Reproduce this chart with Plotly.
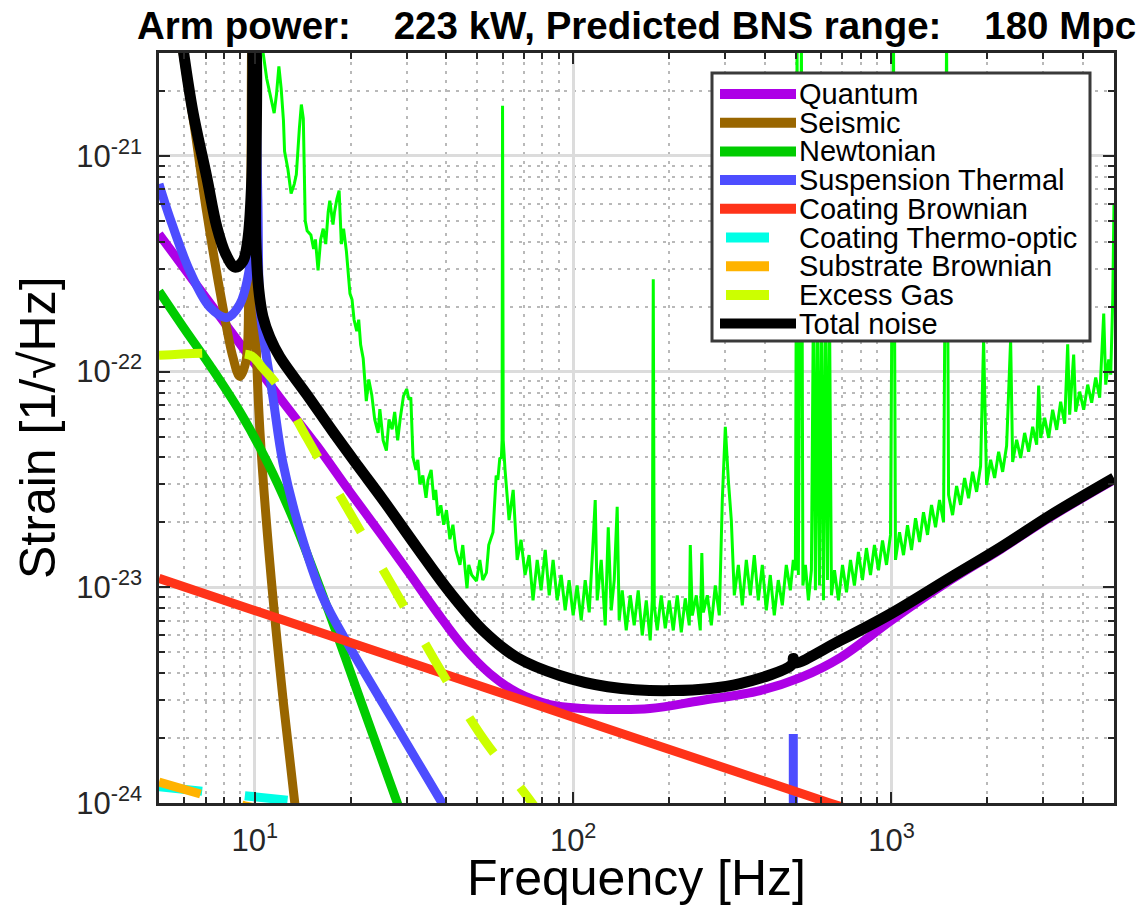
import math
import plotly.graph_objects as go

# ---------------- noise budget curves (frequency in Hz, strain in 1/sqrt(Hz)) ----------------
quantum_f = [5.0, 6.71, 8.97, 11.98, 15.67, 19.88, 25.3, 30.7, 37.35, 45.1, 54.7, 66.7, 84.4,
             107.5, 140.2, 174.3, 250.4, 386.9, 517, 691, 1000, 1534, 2204, 3166, 5000]
quantum_h = [4.34e-22, 2.41e-22, 1.35e-22, 7.57e-23, 4.53e-23, 2.77e-23, 1.71e-23, 1.15e-23,
             7.66e-24, 5.32e-24, 3.98e-24, 3.25e-24, 2.86e-24, 2.74e-24, 2.71e-24, 2.74e-24,
             2.98e-24, 3.32e-24, 3.81e-24, 4.72e-24, 7.03e-24, 1.08e-23, 1.50e-23, 2.12e-23,
             3.15e-23]

seismic_f = [5.89, 6.48, 7.06, 7.93, 8.53, 8.97, 9.37, 9.57, 9.71, 9.78, 9.93, 10.07, 10.37,
             11.15, 12.25, 13.36, 14.0]
seismic_h = [3.3e-21, 1.32e-21, 5.49e-22, 2.00e-22, 1.17e-22, 9.49e-23, 1.11e-22, 2.16e-22,
             6.31e-22, 3.3e-21, 1.08e-21, 1.57e-22, 5.37e-23, 1.29e-23, 3.08e-24, 9.9e-25, 5e-25]

newton_f = [5.0, 5.94, 7.22, 8.97, 10.9, 13.17, 16.84, 20.9, 27.96, 32.0]
newton_h = [2.36e-22, 1.62e-22, 1.07e-22, 6.52e-23, 3.85e-23, 2.09e-23, 8.16e-24, 3.35e-24,
            1.01e-24, 5.8e-25]

susp_f = [5.0, 5.40, 6.25, 7.22, 8.17, 8.97, 9.51, 9.79, 9.93, 10.0, 10.22, 10.37, 10.67,
          11.39, 12.25, 13.85, 16.36, 19.9, 25.3, 32.3, 39.6, 47.4,
          None, 491.5, 491.5]
susp_h = [7.41e-22, 5.20e-22, 2.92e-22, 1.99e-22, 1.78e-22, 2.05e-22, 2.74e-22, 3.90e-22,
          1.84e-21, 3.3e-21, 6.31e-22, 2.00e-22, 1.41e-22, 7.66e-23, 3.78e-23, 1.84e-23,
          8.98e-24, 5.26e-24, 2.88e-24, 1.57e-24, 9.48e-25, 6.0e-25,
          None, 2.09e-24, 8e-25]

coat_brown_f = [5.0, 100.0, 640.0, 700.0]
coat_brown_h = [1.10e-23, 2.50e-24, 1.00e-24, 9.6e-25]

coat_to_f = [5.0, 14.9, 17.0]
coat_to_h = [1.19e-24, 1.00e-24, 9.7e-25]

subst_f = [5.0, 9.3, 10.5]
subst_h = [1.25e-24, 9.7e-25, 9.4e-25]

gas_f = [5.0, 9.65, 10.22, 10.52, 11.73, 14.57, 19.9, 27.2, 36.8, 51.0, 74.3, 80.0]
gas_h = [1.19e-22, 1.19e-22, 1.11e-22, 1.05e-22, 8.7e-23, 4.93e-23, 2.21e-23, 1.0e-23,
         4.57e-24, 2.09e-24, 1.0e-24, 8.5e-25]

total_f = [5.94, 6.38, 7.06, 7.60, 8.11, 8.65, 9.17, 9.51, 9.79, 9.86, 9.93, 10.0, 10.07,
           10.29, 10.6, 11.15, 11.98, 14.57, 17.6, 21.08, 25.3, 32.3, 41.0, 52.1, 66.7, 90.8,
           128.3, 206, 334.6, 488, 491.5, 495, 691, 1000, 1534, 2204, 3166, 5000]
total_h = [3.2e-21, 1.62e-21, 7.99e-22, 4.68e-22, 3.50e-22, 3.05e-22, 3.25e-22, 4.11e-22,
           8.0e-22, 2.33e-21, 3.5e-21, 3.5e-21, 4.11e-22, 2.40e-22, 1.80e-22, 1.44e-22,
           1.17e-22, 7.82e-23, 5.26e-23, 3.65e-23, 2.54e-23, 1.53e-23, 9.48e-24, 6.31e-24,
           4.72e-24, 3.90e-24, 3.46e-24, 3.32e-24, 3.58e-24, 4.40e-24, 4.68e-24, 4.46e-24,
           5.67e-24, 7.57e-24, 1.11e-23, 1.53e-23, 2.16e-23, 3.21e-23]

# ---------------- measured strain spectrum ----------------
meas_f = [
    # 10 - 60 Hz
    10.6, 10.9, 11.5, 11.7, 11.9, 12.1, 12.3, 12.4, 12.7, 13.0, 13.3, 13.5, 13.8, 14.0,
    14.2, 14.4, 14.6, 15.0, 15.3, 15.5, 15.8, 16.1, 16.4, 16.7, 17.0, 17.2, 17.6, 17.8,
    18.1, 18.4, 18.7, 19.0, 19.4, 19.9, 20.2, 20.5, 20.9, 21.2, 21.5, 21.9, 22.4, 22.8,
    23.3, 23.8, 24.4, 24.7, 25.3, 25.9, 26.4, 27.0, 27.5, 28.1, 28.6, 29.3, 30.0, 30.5,
    30.9, 31.4, 32.1, 32.5, 33.0, 33.7, 34.5, 35.0, 35.8, 36.5, 37.0, 37.6, 38.4, 39.2,
    40.0, 41.0, 41.9, 42.8, 44.1, 45.0, 46.4, 47.0, 48.0, 49.7, 50.9, 52.0, 53.4, 54.3,
    56.0, 57.3, 58.0, 58.8, 59.5, 59.8, 60.0, 60.3,
    # 60 Hz - 5 kHz
    61.1, 62.9, 64.8, 66.7, 68.6, 70.6, 72.7, 74.8, 77.1, 79.3,
    81.7, 84.1, 86.5, 89.1, 91.7, 94.4, 97.1, 100, 102.9, 106.0,
    109.1, 112.3, 115.6, 117.3, 119.0, 122.5, 126.1, 128.9, 131.7, 134.6,
    137.5, 139.5, 142.6, 146.8, 151.1, 155.5, 160.1, 164.8, 169.7, 174.6,
    177.2, 178.5, 179.8, 183.7, 189.1, 194.7, 200.4, 206.3, 212.3, 218.6,
    225.0, 231.6, 233.3, 236.7, 243.7, 250.8, 253.6, 256.4, 263.9, 271.6,
    279.6, 287.8, 294.1, 300.6, 307.2, 313.9, 320.8, 330.3, 339.9, 349.9,
    360.2, 370.7, 381.6, 392.8, 404.3, 416.1, 428.4, 440.9, 454.0, 467.2,
    481.0, 491.6, 498.9, 505.1, 509.8, 521.2, 526.8, 536.5, 548.3, 560.3,
    568.5, 576.8, 585.3, 593.8, 602.6, 611.4, 620.4, 629.3, 638.4, 647.7,
    662.1, 681.5, 701.6, 722.2, 743.4, 764.8, 787.3, 810.5, 834.3, 859.0,
    884.1, 910.3, 937.1, 964.5, 992.9, 1014.6, 1029.4, 1059.7, 1090.7, 1122.8,
    1155.8, 1189.8, 1224.8, 1260.5, 1297.6, 1335.8, 1375.1, 1415.4, 1457.1, 1489.4,
    1511.0, 1555.5, 1601.3, 1648.4, 1696.9, 1746.4, 1797.8, 1850.7, 1905.2, 1946.9,
    1989.5, 2048.1, 2108.4, 2170.4, 2234.3, 2299.5, 2367.2, 2401.8, 2472.5, 2545.2,
    2619.5, 2696.5, 2775.9, 2857.6, 2899.3, 2941.7, 3027.6, 3116.7, 3208.4, 3302.9,
    3399.1, 3499.2, 3576.6, 3628.1, 3734.8, 3789.4, 3900.9, 4015.7, 4133.9, 4254.4,
    4379.7, 4508.6, 4641.6, 4709.5, 4812.5, 4883.0, 4954.5, 5000,
]
meas_h = [
    3.06e-21, 2.28e-21, 1.58e-21, 1.94e-21, 2.6e-21, 2.05e-21, 1.46e-21, 1.05e-21,
    8.7e-22, 6.7e-22, 7.4e-22, 8.2e-22, 1.34e-21, 1.73e-21, 1.49e-21, 5.0e-22, 4.5e-22,
    4.3e-22, 3.7e-22, 4.1e-22, 2.95e-22, 4.1e-22, 4.6e-22, 3.9e-22, 5.5e-22, 6.2e-22,
    4.8e-22, 5.5e-22, 6.3e-22, 6.9e-22, 3.9e-22, 4.6e-22, 3.6e-22, 2.3e-22, 2.16e-22,
    1.74e-22, 1.54e-22, 1.74e-22, 1.33e-22, 1.15e-22, 7.3e-23, 9.2e-23, 7.8e-23, 6.0e-23,
    5.2e-23, 6.7e-23, 4.8e-23, 4.3e-23, 6.0e-23, 5.4e-23, 6.5e-23, 4.8e-23, 6.0e-23,
    7.7e-23, 8.3e-23, 7.4e-23, 7.6e-23, 4.0e-23, 3.5e-23, 3.9e-23, 3.0e-23, 3.3e-23,
    2.6e-23, 3.15e-23, 3.5e-23, 2.54e-23, 2.83e-23, 2.15e-23, 2.4e-23, 1.95e-23, 2.28e-23,
    1.67e-23, 1.95e-23, 1.49e-23, 1.27e-23, 1.57e-23, 9.9e-24, 1.27e-23, 1.14e-23,
    1.07e-23, 1.34e-23, 1.08e-23, 1.17e-23, 1.57e-23, 1.8e-23, 3.3e-23, 3.15e-23, 3.95e-23,
    4.0e-23, 4.8e-23, 1.71e-21, 4.8e-23,
    35.0e-24, 20.5e-24, 28.3e-24, 13.4e-24, 16.6e-24, 11.4e-24, 14.1e-24, 8.70e-24, 13.4e-24, 9.68e-24,
    14.9e-24, 9.18e-24, 13.4e-24, 8.70e-24, 11.4e-24, 7.82e-24, 10.8e-24, 7.41e-24, 10.2e-24, 7.03e-24,
    10.8e-24, 7.65e-24, 16.6e-24, 25.4e-24, 8.70e-24, 13.4e-24, 6.66e-24, 19.0e-24, 7.82e-24, 10.8e-24,
    23.6e-24, 7.03e-24, 9.68e-24, 6.31e-24, 9.18e-24, 6.66e-24, 9.68e-24, 5.98e-24, 8.70e-24, 5.67e-24,
    8.70e-24, 268e-24, 8.25e-24, 6.31e-24, 9.18e-24, 6.45e-24, 8.70e-24, 6.31e-24, 9.18e-24, 6.18e-24,
    8.89e-24, 6.66e-24, 15.7e-24, 7.41e-24, 9.18e-24, 6.31e-24, 14.4e-24, 7.65e-24, 9.18e-24, 6.66e-24,
    10.2e-24, 7.41e-24, 25.4e-24, 55.5e-24, 31.5e-24, 20.5e-24, 9.18e-24, 12.7e-24, 8.25e-24, 13.4e-24,
    9.18e-24, 14.1e-24, 8.70e-24, 12.7e-24, 7.82e-24, 11.4e-24, 7.41e-24, 10.8e-24, 8.25e-24, 12.7e-24,
    9.68e-24, 13.4e-24, 12.0e-24, 3500e-24, 11.4e-24, 3500e-24, 10.2e-24, 12.7e-24, 8.70e-24, 12.0e-24,
    216e-24, 9.68e-24, 216e-24, 10.2e-24, 216e-24, 8.70e-24, 216e-24, 10.8e-24, 216e-24, 9.18e-24,
    12.0e-24, 8.70e-24, 12.7e-24, 9.48e-24, 13.4e-24, 10.2e-24, 14.6e-24, 10.8e-24, 15.2e-24, 11.4e-24,
    15.7e-24, 12.0e-24, 16.5e-24, 12.7e-24, 17.5e-24, 3500e-24, 13.4e-24, 18.0e-24, 14.1e-24, 19.4e-24,
    14.9e-24, 20.9e-24, 16.2e-24, 22.3e-24, 17.5e-24, 24.1e-24, 19.0e-24, 25.4e-24, 20.1e-24, 3500e-24,
    26.8e-24, 21.6e-24, 29.5e-24, 24.1e-24, 32.1e-24, 25.9e-24, 34.3e-24, 27.7e-24, 36.5e-24, 141e-24,
    29.8e-24, 39.0e-24, 32.1e-24, 42.5e-24, 34.3e-24, 45.3e-24, 141e-24, 38.1e-24, 48.3e-24, 39.8e-24,
    52.0e-24, 42.5e-24, 55.5e-24, 45.8e-24, 86.1e-24, 49.3e-24, 61.1e-24, 49.3e-24, 66.6e-24, 53.7e-24,
    72.5e-24, 57.3e-24, 134e-24, 63.1e-24, 120e-24, 65.2e-24, 80.7e-24, 66.6e-24, 87.0e-24, 71.8e-24,
    93.8e-24, 75.7e-24, 186e-24, 87.0e-24, 114e-24, 96.8e-24, 216e-24, 604e-24,
]

# ---------------- legend entries ----------------
legend_names = ["Quantum", "Seismic", "Newtonian", "Suspension Thermal", "Coating Brownian",
                "Coating Thermo-optic", "Substrate Brownian", "Excess Gas", "Total noise"]
legend_colors = ["#ad00e6", "#996600", "#00cc00", "#4d4dff", "#ff3319",
                 "#00ffe6", "#ffb300", "#ccff00", "#000000"]
legend_dashed = [False, False, False, False, False, True, True, True, False]

curves = [
    (quantum_f, quantum_h), (seismic_f, seismic_h), (newton_f, newton_h),
    (susp_f, susp_h), (coat_brown_f, coat_brown_h), (coat_to_f, coat_to_h),
    (subst_f, subst_h), (gas_f, gas_h), (total_f, total_h),
]

title_text = "Arm power:\u00a0\u00a0\u00a0\u00a0223 kW, Predicted BNS range:\u00a0\u00a0\u00a0\u00a0180 Mpc"
x_ticks = [10, 100, 1000]
x_ticktext = ["10<sup>1</sup>", "10<sup>2</sup>", "10<sup>3</sup>"]
y_ticks = [1e-24, 1e-23, 1e-22, 1e-21]
y_ticktext = ["10<sup>-24</sup>", "10<sup>-23</sup>", "10<sup>-22</sup>", "10<sup>-21</sup>"]
x_minor = [6, 7, 8, 9, 20, 30, 40, 50, 60, 70, 80, 90, 200, 300, 400, 500, 600, 700, 800,
           900, 2000, 3000, 4000]
y_minor = [m * 10.0 ** e for e in (-24, -23, -22) for m in range(2, 10)] + [2e-21, 3e-21]

DASH = "43px,43px"
FONT = "Liberation Sans, Arial, Helvetica, sans-serif"
AX = "#262626"

fig = go.Figure()

fig.add_trace(go.Scatter(x=meas_f, y=meas_h, mode="lines", showlegend=False,
                         line=dict(color="#00ff00", width=3), hoverinfo="skip"))

for (fx, hy), name, col, dashed in zip(curves, legend_names, legend_colors, legend_dashed):
    width = 11 if name == "Total noise" else 9
    fig.add_trace(go.Scatter(
        x=fx, y=hy, mode="lines", name=name, showlegend=False, hoverinfo="skip",
        connectgaps=False,
        line=dict(color=col, width=width, dash=DASH if dashed else "solid",
                  shape="spline", smoothing=1.0),
    ))

axis_common = dict(
    type="log", showline=True, linecolor=AX, linewidth=2.5, mirror="allticks",
    ticks="inside", ticklen=11, tickwidth=2, tickcolor=AX,
    showgrid=True, gridcolor="#dcdcdc", gridwidth=2.5, zeroline=False,
    tickfont=dict(family=FONT, size=31, color=AX),
)

fig.update_xaxes(
    range=[math.log10(5), math.log10(5000)], tickmode="array",
    tickvals=x_ticks, ticktext=x_ticktext,
    minor=dict(tickvals=x_minor, ticks="inside", ticklen=6, tickwidth=2, tickcolor=AX,
               showgrid=True, gridcolor="#b9b9b9", griddash="3px,6px", gridwidth=2),
    ticklabelstandoff=8,
    **axis_common,
)
fig.update_yaxes(
    range=[-24, math.log10(3e-21)], tickmode="array",
    tickvals=y_ticks, ticktext=y_ticktext,
    minor=dict(tickvals=y_minor, ticks="inside", ticklen=6, tickwidth=2, tickcolor=AX,
               showgrid=True, gridcolor="#b9b9b9", griddash="3px,6px", gridwidth=2),
    ticklabelstandoff=8,
    **axis_common,
)

# plot-area geometry in pixels (used to place the legend box and titles)
L, R, T, B = 159, 1114, 53, 803
W, H = R - L, B - T


def px(xp):
    return (xp - L) / W


def py(yp):
    return (B - yp) / H


shapes = [dict(type="rect", xref="paper", yref="paper", x0=px(712), x1=px(1090),
               y0=py(341), y1=py(73), fillcolor="white", line=dict(color="#3a3a3a", width=3),
               layer="above")]
annotations = []
row0, row_step = 94, 28.7
for i, (name, col, dashed) in enumerate(zip(legend_names, legend_colors, legend_dashed)):
    yc = row0 + i * row_step
    x0, x1 = (726, 769) if dashed else (720, 796)
    shapes.append(dict(type="line", xref="paper", yref="paper", x0=px(x0), x1=px(x1),
                       y0=py(yc), y1=py(yc), line=dict(color=col, width=10), layer="above"))
    annotations.append(dict(xref="paper", yref="paper", x=px(797), y=py(yc), text=name,
                            showarrow=False, xanchor="left", yanchor="middle",
                            font=dict(family=FONT, size=29, color="black")))

annotations += [
    dict(xref="paper", yref="paper", x=0.5, y=py(26), text="<b>" + title_text + "</b>",
         showarrow=False, xanchor="center", yanchor="middle",
         font=dict(family=FONT, size=38.5, color="black")),
    dict(xref="paper", yref="paper", x=0.5, y=py(878), text="Frequency [Hz]",
         showarrow=False, xanchor="center", yanchor="middle",
         font=dict(family=FONT, size=50, color="black")),
    dict(xref="paper", yref="paper", x=px(38), y=0.5, text="Strain [1/\u221aHz]",
         textangle=-90, showarrow=False, xanchor="center", yanchor="middle",
         font=dict(family=FONT, size=50, color="black")),
]

fig.update_layout(
    width=1141, height=909,
    margin=dict(l=L, r=1141 - R, t=T, b=909 - B, pad=0),
    paper_bgcolor="white", plot_bgcolor="white",
    showlegend=False, shapes=shapes, annotations=annotations,
)

fig.write_html("out.html")
